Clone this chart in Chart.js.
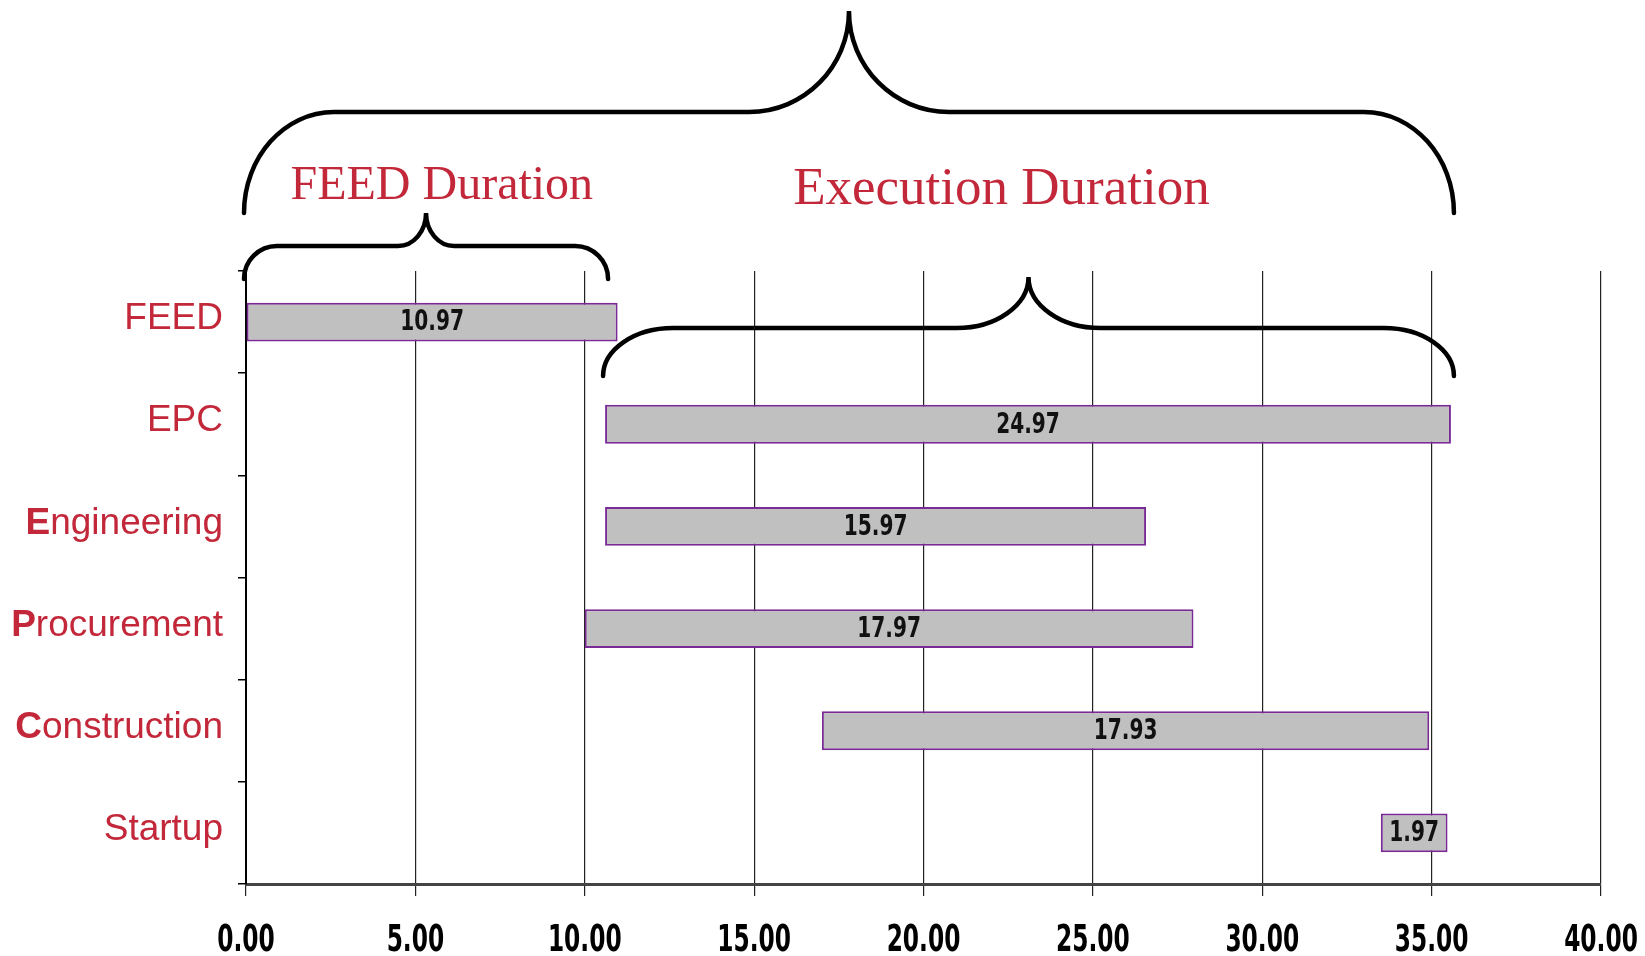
<!DOCTYPE html>
<html>
<head>
<meta charset="utf-8">
<title>Project phase durations</title>
<script src="https://cdn.jsdelivr.net/npm/chart.js@4.4.1/dist/chart.umd.min.js"></script>
<style>
  html, body { margin: 0; padding: 0; background: #ffffff; }
  canvas { display: block; }
</style>
</head>
<body>
<canvas id="chart" width="1645" height="956"></canvas>
<script>
// Project phases, their start month and duration (months)
const categories = ['FEED', 'EPC', 'Engineering', 'Procurement', 'Construction', 'Startup'];
const startMonths = [0, 10.6, 10.6, 10.0, 17.0, 33.5];
const durations = [10.97, 24.97, 15.97, 17.97, 17.93, 1.97];
const tickValues = [0, 5, 10, 15, 20, 25, 30, 35, 40];

// Phase spans marked by the braces above the chart
const feedSpan = [startMonths[0], startMonths[1]];
const executionSpan = [startMonths[1], startMonths[1] + durations[1]];
const overallSpan = [startMonths[0], startMonths[1] + durations[1]];

const RED = '#c3283a';
const CONDENSED = "'DejaVu Sans Condensed', 'DejaVu Sans', sans-serif";
const TICK_SQUEEZE = 0.7;  // horizontal squeeze for the tall narrow axis numerals
const LABEL_SQUEEZE = 0.8; // same for the values inside the bars

const floating = durations.map((d, i) => [startMonths[i], startMonths[i] + d]);

// Linear scale whose tick labels are drawn horizontally squeezed, each about its own anchor
class NarrowLinearScale extends Chart.LinearScale {
  drawLabels(chartArea) {
    const ctx = this.ctx;
    const items = this.getLabelItems(chartArea);
    items.forEach(item => {
      const o = item.options;
      ctx.save();
      ctx.font = item.font.string;
      ctx.fillStyle = o.color;
      ctx.textAlign = o.textAlign;
      ctx.textBaseline = o.textBaseline;
      ctx.translate(o.translation[0], o.translation[1]);
      if (o.rotation) ctx.rotate(o.rotation);
      ctx.scale(TICK_SQUEEZE, 1);
      const lines = Array.isArray(item.label) ? item.label : [item.label];
      let y = item.textOffset;
      lines.forEach(line => {
        ctx.fillText(String(line), 0, y);
        y += item.font.lineHeight;
      });
      ctx.restore();
    });
  }
}
NarrowLinearScale.id = 'narrowLinear';
NarrowLinearScale.defaults = Chart.LinearScale.defaults;
Chart.register(NarrowLinearScale);

// Duration value written in the middle of each bar
const barLabels = {
  id: 'barLabels',
  afterDatasetsDraw(chart) {
    const ctx = chart.ctx;
    const meta = chart.getDatasetMeta(0);
    ctx.save();
    ctx.font = 'bold 28px ' + CONDENSED;
    ctx.fillStyle = '#111111';
    ctx.textAlign = 'center';
    ctx.textBaseline = 'middle';
    meta.data.forEach((bar, i) => {
      const cx = (bar.x + bar.base) / 2;
      ctx.save();
      ctx.translate(cx, bar.y + 1);
      ctx.scale(LABEL_SQUEEZE, 1);
      ctx.fillText(durations[i].toFixed(2), 0, 0);
      ctx.restore();
    });
    ctx.restore();
  }
};

// Category names on the left, some with an emphasized initial letter
const categoryNames = {
  id: 'categoryNames',
  afterDraw(chart, args, opts) {
    const ctx = chart.ctx;
    const y = chart.scales.y;
    const right = chart.chartArea.left - 23;
    const regular = '37px "Liberation Sans", Arial, sans-serif';
    const bold = 'bold 37px "Liberation Sans", Arial, sans-serif';
    ctx.save();
    ctx.fillStyle = RED;
    ctx.textBaseline = 'middle';
    ctx.textAlign = 'left';
    categories.forEach((name, i) => {
      const py = y.getPixelForValue(i) - 3;
      const emph = opts.emphasize.includes(name);
      const head = emph ? name.charAt(0) : '';
      const tail = emph ? name.slice(1) : name;
      ctx.font = regular;
      const wTail = ctx.measureText(tail).width;
      ctx.font = bold;
      const wHead = head ? ctx.measureText(head).width : 0;
      let x = right - wTail - wHead;
      if (head) {
        ctx.fillText(head, x, py);
        x += wHead;
      }
      ctx.font = regular;
      ctx.fillText(tail, x, py);
    });
    ctx.restore();
  }
};

// Curly braces grouping the phases, with their captions
function drawBrace(ctx, x0, x1, yEnd, yLine, yTip, rEnd, rTip) {
  const k = 0.5523;
  const xm = (x0 + x1) / 2;
  const ryE = yEnd - yLine;
  const ryT = yLine - yTip;
  ctx.beginPath();
  ctx.moveTo(x0, yEnd);
  ctx.bezierCurveTo(x0, yEnd - k * ryE, x0 + rEnd - k * rEnd, yLine, x0 + rEnd, yLine);
  ctx.lineTo(xm - rTip, yLine);
  ctx.bezierCurveTo(xm - rTip + k * rTip, yLine, xm, yTip + k * ryT, xm, yTip);
  ctx.bezierCurveTo(xm, yTip + k * ryT, xm + rTip - k * rTip, yLine, xm + rTip, yLine);
  ctx.lineTo(x1 - rEnd, yLine);
  ctx.bezierCurveTo(x1 - rEnd + k * rEnd, yLine, x1, yEnd - k * ryE, x1, yEnd);
  ctx.stroke();
}

const phaseBraces = {
  id: 'phaseBraces',
  afterDraw(chart, args, opts) {
    const ctx = chart.ctx;
    const xs = chart.scales.x;
    ctx.save();
    ctx.strokeStyle = '#000000';
    ctx.lineWidth = 4.5;
    ctx.lineCap = 'round';
    opts.braces.forEach(b => {
      drawBrace(ctx, xs.getPixelForValue(b.span[0]) - 2, xs.getPixelForValue(b.span[1]) + 3,
        b.yEnd, b.yLine, b.yTip, b.rEnd, b.rTip);
    });
    ctx.fillStyle = RED;
    ctx.textAlign = 'center';
    ctx.textBaseline = 'alphabetic';
    opts.captions.forEach(c => {
      ctx.font = c.size + 'px "Liberation Serif", "Times New Roman", serif';
      ctx.fillText(c.text, xs.getPixelForValue(c.at), c.y);
    });
    ctx.restore();
  }
};

new Chart(document.getElementById('chart'), {
  type: 'bar',
  data: {
    labels: categories,
    datasets: [{
      data: floating,
      backgroundColor: '#c0c0c0',
      borderColor: '#7a2a95',
      borderWidth: 2,
      borderSkipped: false,
      categoryPercentage: 1,
      barPercentage: 0.38
    }]
  },
  options: {
    indexAxis: 'y',
    responsive: false,
    devicePixelRatio: 1,
    animation: false,
    layout: { padding: { top: 271, right: 44, left: 0, bottom: 0 } },
    plugins: {
      legend: { display: false },
      tooltip: { enabled: false },
      categoryNames: { emphasize: ['Engineering', 'Procurement', 'Construction'] },
      phaseBraces: {
        braces: [
          { span: overallSpan, yEnd: 213, yLine: 112, yTip: 11, rEnd: 90, rTip: 100 },
          { span: feedSpan, yEnd: 279, yLine: 246, yTip: 213, rEnd: 33, rTip: 28 },
          { span: executionSpan, yEnd: 376, yLine: 328, yTip: 277, rEnd: 70, rTip: 72 }
        ],
        captions: [
          { text: 'FEED Duration', at: 5.78, y: 199, size: 48 },
          { text: 'Execution Duration', at: 22.3, y: 204, size: 53 }
        ]
      }
    },
    scales: {
      x: {
        type: 'narrowLinear',
        min: tickValues[0],
        max: tickValues[tickValues.length - 1],
        afterBuildTicks(scale) {
          scale.ticks = tickValues.map(v => ({ value: v }));
        },
        afterFit(scale) {
          scale.height = 72;
          scale.paddingLeft = 0;
          scale.paddingRight = 0;
        },
        grid: {
          color: '#222222',
          lineWidth: 1.2,
          drawTicks: true,
          tickLength: 12
        },
        border: { display: true, color: '#444444', width: 3 },
        ticks: {
          padding: 23,
          color: '#000000',
          font: { family: CONDENSED, size: 37, weight: 'bold' },
          callback: v => Number(v).toFixed(2),
          maxRotation: 0,
          autoSkip: false
        }
      },
      y: {
        type: 'category',
        afterFit(scale) { scale.width = 246; },
        grid: {
          display: true,
          drawOnChartArea: false,
          drawTicks: true,
          tickLength: 8,
          color: '#000000',
          lineWidth: 1.5,
          offset: true
        },
        border: { display: true, color: '#000000', width: 2 },
        ticks: { display: false }
      }
    }
  },
  plugins: [barLabels, categoryNames, phaseBraces]
});
</script>
</body>
</html>
